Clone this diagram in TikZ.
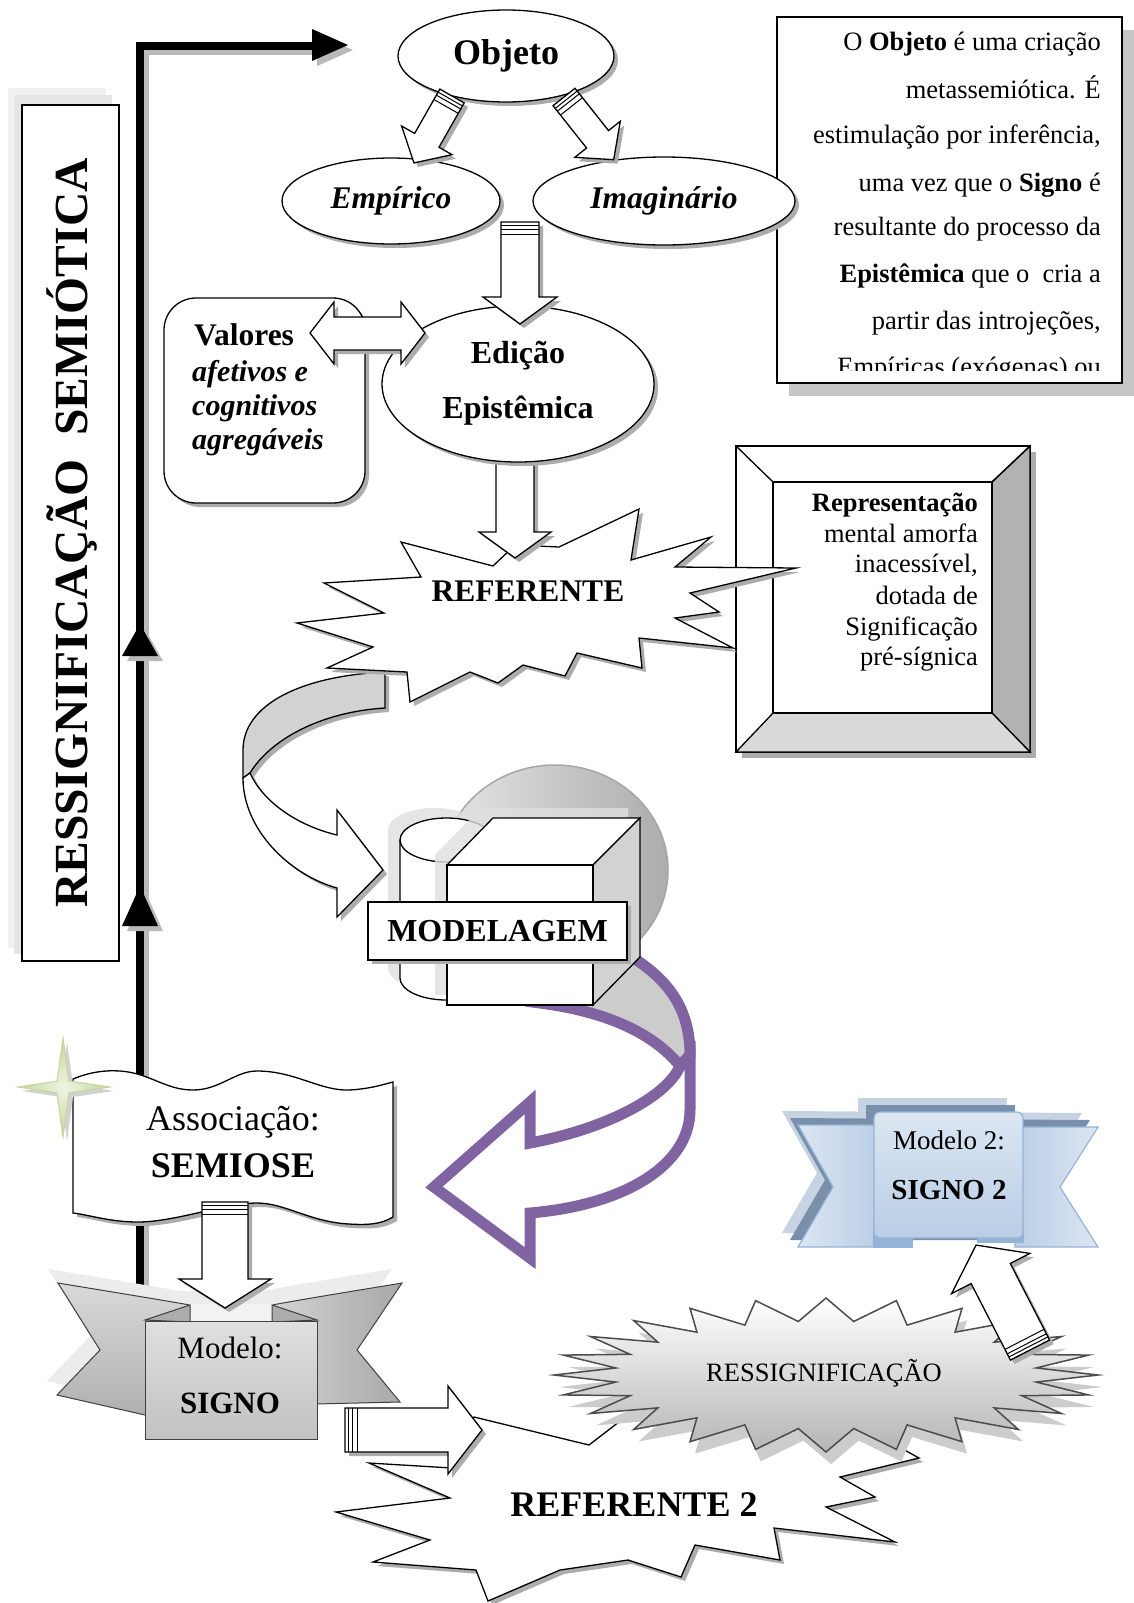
\documentclass[tikz,border=0pt]{standalone}
\usepackage{fontspec}
\setmainfont{Liberation Serif}
\usetikzlibrary{shapes.geometric,shadows}
\definecolor{purp}{HTML}{8064A2}
\definecolor{blA}{HTML}{DCE6F2}
\definecolor{blB}{HTML}{B9CDE5}
\definecolor{blC}{HTML}{95B3D7}
\definecolor{blDark}{HTML}{7A8FAA}
\definecolor{blLight}{HTML}{C6D3E3}
\definecolor{grA}{HTML}{EEF4E2}
\definecolor{grB}{HTML}{C3D69B}
\newcommand\fs[1]{\fontsize{#1}{#1}\selectfont}
% hollow block arrow: x,y (tail), angle, length, shaft half width, head half width, head length, stripes
\newcommand\harrow[8]{%
  \begin{scope}[shift={(#1+4,#2+4)},rotate=#3]
    \fill[gray!65] (0,-#5) -- ({#4-#7},-#5) -- ({#4-#7},-#6) -- (#4,0) -- ({#4-#7},#6) -- ({#4-#7},#5) -- (0,#5) -- cycle;
  \end{scope}
  \begin{scope}[shift={(#1,#2)},rotate=#3]
    \path[wshape] (0,-#5) -- ({#4-#7},-#5) -- ({#4-#7},-#6) -- (#4,0) -- ({#4-#7},#6) -- ({#4-#7},#5) -- (0,#5) -- cycle;
    \ifnum#8=1
      \draw[line width=1pt] (3.5,-#5) -- (3.5,#5) (7,-#5) -- (7,#5) (12,-#5) -- (12,#5);
    \fi
  \end{scope}}
\begin{document}
\begin{tikzpicture}[x=1pt,y=-1pt,line join=miter,
  wshape/.style={draw=black,line width=1.3pt,fill=white},
  shad/.style={drop shadow={shadow xshift=4pt,shadow yshift=-4pt,fill=gray!65,opacity=1}},
  lbl/.style={inner sep=0pt}]
\useasboundingbox (0,0) rectangle (1134,1603);
\fill[white] (0,0) rectangle (1134,1603);

% ---------- title box
\fill[gray!12] (8,88) rectangle (106,948);
\fill[gray!20] (14,95) rectangle (112,954);
\node[draw,line width=1.2pt,fill=white,minimum width=97,minimum height=856,inner sep=0] (titlebox) at (70.5,533) {};
\node[rotate=90,font=\fs{47.5}\bfseries,lbl] (title) at (72,533) {RESSIGNIFICAÇÃO\ \ SEMIÓTICA};

% ---------- thick black arrow
\draw[gray!55,line width=8pt] (145,1300) -- (145,51) -- (317,51);
\fill[gray!55] (317,34) -- (353,50) -- (317,66) -- cycle;
\draw[black,line width=8pt] (140,1300) -- (140,46) -- (314,46);
\fill[black] (312,29) -- (348,45) -- (312,61) -- cycle;
\fill[gray!55] (145,629) -- (163,661) -- (127,661) -- cycle;
\fill[black] (140,624) -- (158,656) -- (122,656) -- cycle;
\fill[gray!55] (145,891) -- (163,931) -- (127,931) -- cycle;
\fill[black] (140,886) -- (158,926) -- (122,926) -- cycle;

% ---------- text box top right
\fill[gray!45] (789,30) rectangle (1134,396);
\node[draw,line width=1.2pt,fill=white,minimum width=345,minimum height=366,inner sep=0] (infobox) at (949.5,200) {};
\begin{scope}
\clip (779,19) rectangle (1120,370);
\node[anchor=base east,lbl,font=\fs{26.5}] (t1) at (1101,51) {O \textbf{Objeto} é uma criação};
\node[anchor=base east,lbl,font=\fs{26.5}] (t2) at (1101,98) {metassemiótica. É};
\node[anchor=base east,lbl,font=\fs{26.5}] (t3) at (1101,143) {estimulação por inferência,};
\node[anchor=base east,lbl,font=\fs{26.5}] (t4) at (1101,191) {uma vez que o \textbf{Signo} é};
\node[anchor=base east,lbl,font=\fs{26.5}] (t5) at (1101,235) {resultante do processo da};
\node[anchor=base east,lbl,font=\fs{26.5}] (t6) at (1101,282) {\textbf{Epistêmica} que o~ cria a};
\node[anchor=base east,lbl,font=\fs{26.5}] (t7) at (1101,329) {partir das introjeções,};
\node[anchor=base east,lbl,font=\fs{26.5}] (t8) at (1101,375) {Empíricas (exógenas) ou};
\end{scope}

% ---------- ellipses top
\node[ellipse,wshape,shad,inner sep=2pt,minimum width=216,minimum height=92,font=\fs{36}\bfseries] (objeto) at (506,56) {Objeto};
\node[ellipse,wshape,shad,inner sep=2pt,minimum width=218,minimum height=86,font=\fs{31.5}\bfseries\itshape] (empirico) at (391,201) {Empírico};
\node[ellipse,wshape,shad,inner sep=2pt,minimum width=262,minimum height=88,font=\fs{31.5}\bfseries\itshape] (imag) at (664,201) {Imaginário};
\harrow{452}{96}{-119.6}{77}{14}{29}{26}{1}
\harrow{564}{97}{-51.6}{80}{14}{29}{26}{1}

% ---------- Representacao frame
\fill[gray!65] (742,452) rectangle (1036,758);
\path[wshape] (736,446) rectangle (1030,752);
\path[wshape,fill=gray!60] (1030,446) -- (1030,752) -- (992,713) -- (992,482) -- cycle;
\path[wshape,fill=gray!30] (736,752) -- (1030,752) -- (992,713) -- (773,713) -- cycle;
\draw[line width=1.3pt] (736,446) -- (773,482) (1030,446) -- (992,482);
\node[draw,line width=1.3pt,fill=white,minimum width=219,minimum height=231,inner sep=0] (repbox) at (882.5,597.5) {};
\node[anchor=base east,lbl,font=\fs{26.5}\bfseries] (r1) at (978,511) {Representação};
\node[anchor=base east,lbl,font=\fs{26.5}] (r2) at (978,542) {mental amorfa};
\node[anchor=base east,lbl,font=\fs{26.5}] (r3) at (978,572) {inacessível,};
\node[anchor=base east,lbl,font=\fs{26.5}] (r4) at (978,604) {dotada de};
\node[anchor=base east,lbl,font=\fs{26.5}] (r5) at (978,635) {Significação};
\node[anchor=base east,lbl,font=\fs{26.5}] (r6) at (978,665) {pré-sígnica};

% ---------- grey U-turn ribbon arrow
\path[wshape,fill=gray!35,shad] (385,672) .. controls (300,676) and (243,705) .. (243,750) -- (243,778) -- (250,773) .. controls (270,740) and (320,712) .. (385,708) -- cycle;
\path[wshape,shad] (243,778) .. controls (243,830) and (290,875) .. (337,888) -- (337,917) -- (383,870) -- (337,810) -- (337,835) .. controls (295,825) and (262,800) .. (250,773) -- cycle;

% ---------- REFERENTE star
\path[wshape,shad] (401,542) -- (493,566) -- (515,545) -- (559,547) -- (639,509) -- (631,560) -- (711,537) -- (675,567) -- (796,568) -- (690,593) -- (719,612) -- (675,618) -- (733,648) -- (639,638) -- (642,668) -- (577,653) -- (565,676) -- (523,665) -- (498,683) -- (470,672) -- (410,702) -- (407,672) -- (327,668) -- (373,647) -- (297,623) -- (384,613) -- (324,583) -- (421,577) -- cycle;
\node[font=\fs{31.5}\bfseries,lbl] (referente) at (528,591) {REFERENTE};

% ---------- Edicao
\harrow{515}{452}{-90}{106}{19}{36}{26}{0}
\node[ellipse,wshape,shad,minimum width=272,minimum height=156] (edicao) at (518,384) {};
\node[font=\fs{32}\bfseries,lbl] (ed1) at (518,356) {Edição};
\node[font=\fs{32}\bfseries,lbl] (ed2) at (518,411) {Epistêmica};

% ---------- Valores box
\node[draw,line width=1.3pt,fill=white,rounded corners=32pt,shad,minimum width=201,minimum height=205,inner sep=0] (valbox) at (264.5,400.5) {};
\node[anchor=base west,lbl,font=\fs{31.5}\bfseries] (v1) at (194,345) {Valores};
\node[anchor=base west,lbl,font=\fs{30}\bfseries\itshape] (v2) at (192,381) {afetivos e};
\node[anchor=base west,lbl,font=\fs{30}\bfseries\itshape] (v3) at (192,415) {cognitivos};
\node[anchor=base west,lbl,font=\fs{30}\bfseries\itshape] (v4) at (192,449) {agregáveis};
\path[wshape,shad] (310,333) -- (334,302) -- (334,317) -- (401,317) -- (401,302) -- (425,333) -- (401,364) -- (401,350) -- (334,350) -- (334,364) -- cycle;
\harrow{520}{222}{-90}{102}{19}{37}{27}{1}

% ---------- MODELAGEM group
\path[draw=gray!70,line width=1.5pt,left color=gray!20,right color=gray!65] (555,870) ellipse [x radius=113, y radius=105];
\path[fill=gray!40,draw=purp,line width=11pt] (620,950) .. controls (665,975) and (690,1005) .. (690,1055) -- (680,1066) .. controls (655,1035) and (610,1012) .. (540,1003) -- cycle;
\path[fill=white,draw=purp,line width=11pt] (690,1055) -- (690,1110) .. controls (690,1165) and (625,1205) .. (530,1213) -- (530,1258) -- (434,1187) -- (530,1102) -- (530,1143) .. controls (610,1128) and (668,1095) .. (680,1066) -- cycle;
\begin{scope}[shift={(-12,-10)}]
\fill[gray!25,opacity=.8] (400,840) -- (400,978) arc[start angle=180, end angle=0, x radius=46.5, y radius=22] -- (493,840) arc[start angle=0, end angle=-180, x radius=46.5, y radius=22] -- cycle;
\end{scope}
\path[wshape] (400,840) -- (400,978) arc[start angle=180, end angle=0, x radius=46.5, y radius=22] -- (493,840) -- cycle;
\path[wshape] (446.5,840) ellipse [x radius=46.5, y radius=22];
\begin{scope}[shift={(-12,-10)}]
\fill[gray!25,opacity=.8] (447,865) -- (493,818) -- (640,818) -- (640,957) -- (593,1005) -- (447,1005) -- cycle;
\end{scope}
\path[wshape] (447,865) -- (493,818) -- (640,818) -- (593,865) -- cycle;
\path[wshape,fill=gray!35] (593,865) -- (640,818) -- (640,957) -- (593,1005) -- cycle;
\node[draw,line width=1.3pt,fill=white,minimum width=146,minimum height=140,inner sep=0] (cubefront) at (520,935) {};
\node[draw,line width=1.3pt,fill=white,shad,minimum width=259,minimum height=58,inner sep=0,font=\fs{32}\bfseries] (modelagem) at (497.5,931) {MODELAGEM};

% ---------- SIGNO ribbon
\begin{scope}[shift={(-10,-14)}]
\fill[gray!15] (58,1283) .. controls (100,1290) and (150,1298) .. (190,1305) -- (272,1305) .. controls (310,1298) and (360,1290) .. (402,1283) -- (357,1350) -- (400,1402) -- (145,1415) -- (57,1395) -- (100,1350) -- cycle;
\end{scope}
\path[draw=gray!50!black,line width=1pt,top color=gray!30,bottom color=gray!62] (58,1283) .. controls (100,1290) and (150,1298) .. (190,1305) -- (190,1412) -- (145,1415) -- (57,1395) -- (100,1350) -- cycle;
\path[draw=gray!50!black,line width=1pt,left color=gray!35,right color=gray!68] (402,1283) .. controls (360,1290) and (310,1298) .. (272,1305) -- (272,1405) -- (400,1402) -- (357,1350) -- cycle;
\fill[gray!10] (189,1304) rectangle (273,1324);
\path[draw=gray!50!black,line width=1pt,fill=gray!65] (145,1320) -- (190,1305) -- (190,1322) -- cycle;
\path[draw=gray!50!black,line width=1pt,fill=gray!65] (317,1320) -- (272,1305) -- (272,1322) -- cycle;
\node[draw=gray!50!black,line width=1pt,top color=gray!25,bottom color=gray!48,minimum width=172,minimum height=118,inner sep=0] (signopanel) at (231,1380) {};
\node[font=\fs{31},lbl] (modelo) at (230,1348) {Modelo:};
\node[font=\fs{31}\bfseries,lbl] (signo) at (230,1403) {SIGNO};

% ---------- SEMIOSE banner and green star
\path[wshape,shad] (73,1079) .. controls (90,1072) and (105,1070) .. (120,1071) .. controls (150,1073) and (165,1090) .. (193,1090) .. controls (220,1090) and (235,1071) .. (257,1071) .. controls (295,1071) and (320,1091) .. (349,1090) .. controls (370,1089) and (385,1084) .. (393,1082) -- (393,1217) .. controls (380,1225) and (365,1225) .. (349,1224) .. controls (310,1222) and (285,1203) .. (257,1203) .. controls (225,1203) and (175,1222) .. (138,1222) .. controls (110,1222) and (90,1215) .. (73,1213) -- cycle;
\node[font=\fs{36},lbl] (assoc) at (233,1122) {Associação:};
\node[font=\fs{36}\bfseries,lbl] (semiose) at (233,1166) {SEMIOSE};
\fill[gray!35] (67,1042) -- (73,1085) -- (114,1091) -- (73,1097) -- (67,1141) -- (61,1097) -- (22,1091) -- (61,1085) -- cycle;
\path[draw=grB,line width=1pt,inner color=grA,outer color=grB] (63,1038) -- (69,1081) -- (110,1087) -- (69,1093) -- (63,1137) -- (57,1093) -- (18,1087) -- (57,1081) -- cycle;
\harrow{225}{1202}{-90}{106}{23}{46}{29}{1}

% ---------- REFERENTE 2
\path[wshape,shad] (369,1463) -- (452,1468) -- (474,1417) -- (589,1445) -- (650,1398) -- (760,1410) -- (850,1420) -- (919,1458) -- (840,1477) -- (875,1497) -- (826,1507) -- (895,1542) -- (774,1528) -- (780,1560) -- (695,1545) -- (681,1577) -- (628,1560) -- (560,1570) -- (488,1601) -- (476,1570) -- (373,1562) -- (430,1540) -- (336,1512) -- (450,1498) -- cycle;
\node[font=\fs{36}\bfseries,lbl] (referente2) at (634,1505) {REFERENTE 2};
\harrow{345}{1430}{0}{137}{22}{44}{34}{1}

% ---------- RESSIGNIFICACAO star
\path[draw=gray!60!black,line width=1.5pt,top color=white,bottom color=gray!58,
  drop shadow={shadow xshift=5pt,shadow yshift=-12pt,fill=gray!40,opacity=1}]
  plot[samples at={0,7.5,...,352.5}] ({826+(272-60*mod(round(\x/7.5),2))*cos(\x)},{1375-(77-23*mod(round(\x/7.5),2))*sin(\x)}) -- cycle;
\node[font=\fs{26.5},lbl] (ressig) at (824,1373) {RESSIGNIFICAÇÃO};

% ---------- SIGNO 2 ribbon
\begin{scope}[shift={(-16,-14)}]
\fill[blLight] (798,1125) -- (1098,1127) -- (1060,1187) -- (1098,1247) -- (798,1247) -- (833,1187) -- cycle;
\fill[blLight] (874,1112) rectangle (1023,1238);
\end{scope}
\begin{scope}[shift={(-8,-7)}]
\fill[blDark] (798,1125) -- (1098,1127) -- (1060,1187) -- (1098,1247) -- (798,1247) -- (833,1187) -- cycle;
\fill[blDark] (874,1112) rectangle (1023,1238);
\end{scope}
\path[draw=blC,line width=1.2pt,left color=blA,right color=blB] (798,1125) -- (880,1125) -- (880,1247) -- (798,1247) -- (833,1187) -- cycle;
\path[draw=blC,line width=1.2pt,left color=blB,right color=blA] (1098,1127) -- (1015,1127) -- (1015,1247) -- (1098,1247) -- (1060,1187) -- cycle;
\path[draw=blC,line width=1.2pt,fill=blC] (874,1228) rectangle (912,1247);
\path[draw=blC,line width=1.2pt,fill=blC] (978,1228) rectangle (1023,1242);
\node[draw=blC,line width=1.2pt,rounded corners=6pt,top color=blA,bottom color=blB,minimum width=149,minimum height=126,inner sep=0] (signo2panel) at (948.5,1175) {};
\node[font=\fs{27},lbl] (modelo2) at (949,1140) {Modelo 2:};
\node[font=\fs{29}\bfseries,lbl] (signo2) at (949,1190) {SIGNO 2};
\harrow{1030}{1350}{117.2}{118}{22}{44}{32}{1}
\end{tikzpicture}
\end{document}
